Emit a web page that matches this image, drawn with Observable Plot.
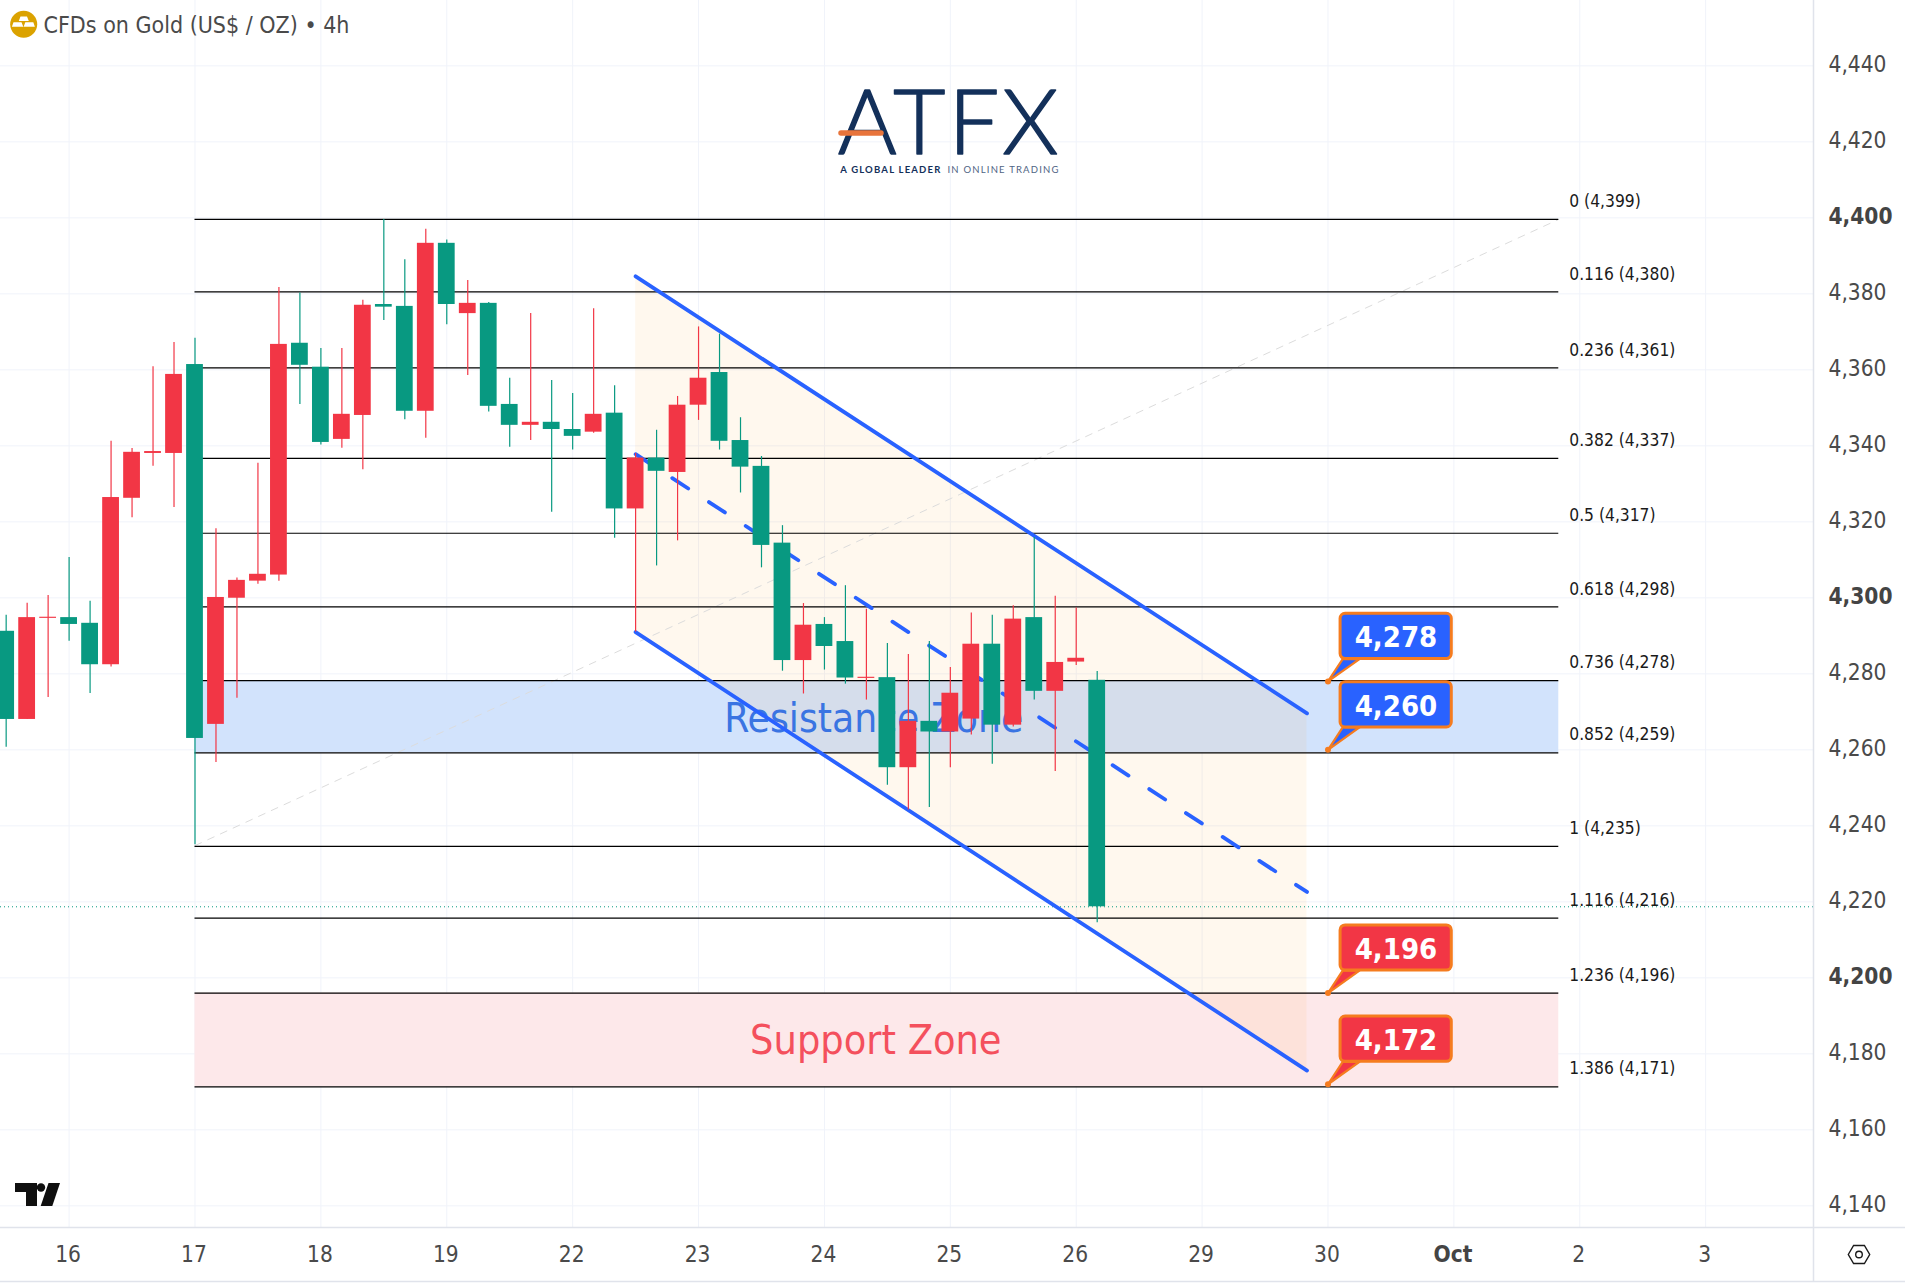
<!DOCTYPE html>
<html><head><meta charset="utf-8">
<script src="https://cdn.jsdelivr.net/npm/d3@7"></script>
<script src="https://cdn.jsdelivr.net/npm/@observablehq/plot@0.6"></script>
<style>
html,body{margin:0;padding:0;background:#fff}
svg{display:block}
.logo-big text{letter-spacing:3px}
.logo-small text{letter-spacing:1.2px}
</style></head><body><div id="chart"></div>
<script>
const firstBar = -9;
const opens = [4291.2,4268,4294.6,4294.8,4293.3,4282.4,4326.2,4338,4338,4361.4,4266.7,4299.9,4304.4,4306,4367,4360.7,4341.7,4348,4377.2,4376.7,4349.1,4393.3,4374.8,4377.5,4350.9,4345.4,4346.2,4344.3,4343.6,4348.6,4323.4,4336.8,4333,4350.7,4359.3,4341.4,4334.6,4314.4,4283.5,4293,4288.5,4278.8,4279,4255.3,4267.5,4264.7,4268.1,4287.8,4266.5,4294.8,4275.4,4283.1,4278.3];
const highs = [4295.4,4298.6,4300.6,4310.6,4299.1,4341.2,4339.3,4360.8,4367.2,4368.3,4318.2,4305.2,4335.4,4381.7,4380.2,4365.6,4365.6,4378.3,4399.6,4389,4397,4394.2,4383.5,4377.7,4357.8,4374.8,4357.2,4353.8,4376.1,4355.8,4338,4344.1,4353,4371.3,4369.4,4347.4,4337.2,4319,4298.5,4294.8,4303.2,4297,4288,4285.1,4288.5,4281.7,4296,4295.4,4297.9,4315.9,4300.4,4297.3,4280.6];
const lows = [4260.7,4268,4273.8,4288.6,4274.8,4281.8,4321.1,4334.6,4323.8,4235,4256.7,4273.6,4303.6,4304.4,4350.9,4340.2,4339.4,4333.7,4373,4346.9,4342,4371.9,4358.5,4348.9,4339.6,4341.4,4322.5,4338.9,4343.3,4315.7,4291,4308.4,4315,4346.7,4338.9,4327.6,4307.9,4280.7,4274.7,4281,4277.3,4273.1,4250.7,4244.2,4244.8,4255.3,4263.9,4256.2,4266,4273.1,4254.3,4282.2,4214.5];
const closes = [4268,4294.8,4294.9,4293,4282.4,4326.4,4338.3,4338.5,4358.8,4263,4300.1,4304.6,4306.2,4366.7,4361.2,4340.9,4348.3,4377,4376.5,4349.1,4393.3,4377.2,4377.5,4350.4,4345.4,4346.2,4344.3,4342.5,4348.3,4323.4,4336.8,4333.3,4350.7,4357.8,4341.2,4334.4,4313.8,4283.5,4292.8,4287.2,4278.9,4279.1,4255.3,4267.5,4264.7,4274.9,4287.8,4266.5,4294.4,4275.4,4283,4284.1,4218.7];

const dayTicks = [-6,0,6,12,18,24,30,36,42,48,54,60,66,72];
const dayLabels = ["16","17","18","19","22","23","24","25","26","29","30","Oct","2","3"];
const priceTicks = [4140,4160,4180,4200,4220,4240,4260,4280,4300,4320,4340,4360,4380,4400,4420,4440];

const fibRatios = ["0","0.116","0.236","0.382","0.5","0.618","0.736","0.852","1","1.116","1.236","1.386"];
const fibShown = ["4,399","4,380","4,361","4,337","4,317","4,298","4,278","4,259","4,235","4,216","4,196","4,171"];
const fibPrices = [4399.6,4380.5,4360.5,4336.7,4317,4297.6,4278.2,4259.2,4234.6,4215.7,4196,4171.3];

const channelUpper = [4384.6,4269.6];
const channelMiddle = [4337.8,4222.6];
const channelLower = [4291,4175.6];
const channelBars = [21,53];

const tagPrices = [4278,4260,4196,4172];
const tagColors = ["#2962ff","#2962ff","#f23645","#f23645"];
const lastPrice = 4218.7;

const GREEN = "#089981", RED = "#f23645", ORANGE = "#f57c1f", GRID = "#f0f3fa", AXIS = "#e0e3eb", INK = "#4a4a4a";
const FONT = "'DejaVu Sans Condensed','DejaVu Sans',sans-serif";

const bars = opens.map((o,i)=>({i:firstBar+i,o,h:highs[i],l:lows[i],c:closes[i],color:closes[i]<o?GREEN:RED}));
const upBars = bars.filter(b=>b.color===RED), downBars = bars.filter(b=>b.color===GREEN);
const fibs = fibPrices.map((p,i)=>({p,label:`${fibRatios[i]} (${fibShown[i]})`}));
const channel = channelBars.map((x,i)=>({x,u:channelUpper[i],m:channelMiddle[i],l:channelLower[i]}));
const F = d3.format(",");

const candles = (rows,color)=>[
  Plot.ruleX(rows,{x:"i",y1:"l",y2:"h",stroke:color,strokeWidth:1.2}),
  Plot.rect(rows,{x1:d=>d.i-0.4,x2:d=>d.i+0.4,y1:"o",y2:"c",fill:color})
];
const tagMarks = tagPrices.flatMap((p,i)=>{
  const col = tagColors[i];
  return [
    Plot.line([[54,p],[54.7,p+5.9],[55.5,p+5.9],[54,p]],{fill:col,stroke:ORANGE,strokeWidth:2.2}),
    Plot.rect([p],{x1:54.6,x2:59.9,y1:d=>d+5.9,y2:d=>d+17.8,fill:col,stroke:ORANGE,strokeWidth:3,r:5}),
    Plot.dot([p],{x:54,y:d=>d,r:3,fill:ORANGE}),
    Plot.text([p],{x:57.24,y:d=>d+11.85,dy:1.5,text:d=>F(d),fill:"#fff",fontSize:29,fontWeight:"bold",fontFamily:FONT})
  ];
});

function chrome(){
  const g = d3.create("svg:g");
  g.append("circle").attr("cx",23.7).attr("cy",24.3).attr("r",13.5).attr("fill","#dba200");
  g.append("path").attr("fill","#fff").attr("d","M20.5 16.5h6.5l1.8 4.4h-10zM13.5 22.2h8l1.8 4.6h-11.4zM25.3 22.2h8l1.6 4.6H23.6z");
  g.append("path").attr("fill","#0f0f0f").attr("d","M15 1183h22v23h-11v-14h-11z");
  g.append("circle").attr("cx",41).attr("cy",1187.5).attr("r",4.2).attr("fill","#0f0f0f");
  g.append("path").attr("fill","#0f0f0f").attr("d","M48.5 1183H60l-7.7 23H40.7z");
  g.append("path").attr("fill","none").attr("stroke","#1a1a1a").attr("stroke-width",1.4).attr("d","M1848.3 1254.5l5.3-9h10.8l5.3 9-5.3 9h-10.8z");
  g.append("circle").attr("cx",1859).attr("cy",1254.5).attr("r",3.3).attr("fill","none").attr("stroke","#1a1a1a").attr("stroke-width",1.4);
  g.append("line").attr("x1",841).attr("x2",881).attr("y1",133).attr("y2",133).attr("stroke","#e8743b").attr("stroke-width",5.5).attr("stroke-linecap","round");
  return g.node();
}

const plot = Plot.plot({
  width:1905,height:1284,
  marginTop:0,marginLeft:0,marginRight:92,marginBottom:57,
  x:{domain:[-9.27,77.14]},
  y:{domain:[4134.3,4457.2]},
  style:{fontFamily:FONT,background:"#fff",color:INK,overflow:"visible"},
  marks:[
    Plot.gridX(dayTicks,{stroke:GRID,strokeOpacity:1}),
    Plot.gridY(priceTicks,{stroke:GRID,strokeOpacity:1}),
    Plot.rect([[4259.2,4278.2]],{x1:0,x2:65,y1:d=>d[0],y2:d=>d[1],fill:"#d2e3fc"}),
    Plot.rect([[4171.3,4196]],{x1:0,x2:65,y1:d=>d[0],y2:d=>d[1],fill:"#fde8ea"}),
    Plot.areaY(channel,{x:"x",y1:"l",y2:"u",fill:"#ff9800",fillOpacity:0.065}),
    Plot.line([[0,4234.8],[65,4399.6]],{stroke:"#dcdcdc",strokeWidth:1,strokeDasharray:"7 7"}),
    Plot.ruleY(fibs,{y:"p",x1:0,x2:65,stroke:"#000",strokeWidth:1.2}),
    Plot.ruleY([lastPrice],{stroke:GREEN,strokeWidth:1,strokeDasharray:"1 3"}),
    Plot.text(fibs,{x:65.5,y:"p",text:"label",dy:-18,textAnchor:"start",fontSize:17.3,fill:"#1a1a1a"}),
    Plot.text(["Resistance Zone"],{x:32.35,y:4268,text:d=>d,fontSize:40.3,fill:"#3a74e2"}),
    Plot.text(["Support Zone"],{x:32.45,y:4183.4,text:d=>d,fontSize:41,fill:"#f4505d"}),
    Plot.line(channel,{x:"x",y:"u",stroke:"#2962ff",strokeWidth:3.8}),
    Plot.line(channel,{x:"x",y:"l",stroke:"#2962ff",strokeWidth:3.8}),
    Plot.line(channel,{x:"x",y:"m",stroke:"#2962ff",strokeWidth:3.8,strokeDasharray:"19 24.8"}),
    ...candles(upBars,RED),
    ...candles(downBars,GREEN),
    ...tagMarks,
    Plot.ruleX([77.14],{y1:4120.1,y2:4457.2,stroke:AXIS,strokeWidth:1.5}),
    Plot.ruleY([4134.3,4120.1],{x1:-9.27,x2:81.53,stroke:AXIS,strokeWidth:1.5}),
    Plot.axisY(priceTicks.filter(d=>d%100!==0),{anchor:"right",label:null,tickSize:0,tickPadding:15,tickFormat:F,fontSize:22.5,dy:-1,fill:INK}),
    Plot.axisY(priceTicks.filter(d=>d%100===0),{anchor:"right",label:null,tickSize:0,tickPadding:15,tickFormat:F,fontSize:22.5,dy:-1,fontWeight:"bold",fill:"#444"}),
    Plot.axisX(dayTicks.filter((d,i)=>dayLabels[i]!=="Oct"),{anchor:"bottom",label:null,tickSize:0,tickPadding:19,dx:-1,tickFormat:d=>dayLabels[dayTicks.indexOf(d)],fontSize:22.5,fill:INK}),
    Plot.axisX(dayTicks.filter((d,i)=>dayLabels[i]==="Oct"),{anchor:"bottom",label:null,tickSize:0,tickPadding:19,dx:-1,tickFormat:d=>dayLabels[dayTicks.indexOf(d)],fontSize:22.5,fontWeight:"bold",fill:"#444"}),
    Plot.text(["CFDs on Gold (US$ / OZ) • 4h"],{frameAnchor:"top-left",dx:43,dy:25,lineAnchor:"middle",textAnchor:"start",text:d=>d,fontSize:23,fill:INK}),
    Plot.text(["ATFX"],{frameAnchor:"top-left",dx:949,dy:125,lineAnchor:"middle",textAnchor:"middle",text:d=>d,fontSize:90,fontWeight:300,fontFamily:"Lato",fill:"#13305a",stroke:"#13305a",strokeWidth:1.6,className:"logo-big"}),
    Plot.text(["A GLOBAL LEADER"],{frameAnchor:"top-left",dx:941,dy:169,lineAnchor:"middle",textAnchor:"end",text:d=>d,fontSize:9.5,fontWeight:"bold",fontFamily:"Lato",fill:"#13305a",className:"logo-small"}),
    Plot.text(["IN ONLINE TRADING"],{frameAnchor:"top-left",dx:947,dy:169,lineAnchor:"middle",textAnchor:"start",text:d=>d,fontSize:9.5,fontFamily:"Lato",fill:"#4f6484",className:"logo-small"}),
    chrome
  ]
});
document.getElementById("chart").append(plot);
</script></body></html>
